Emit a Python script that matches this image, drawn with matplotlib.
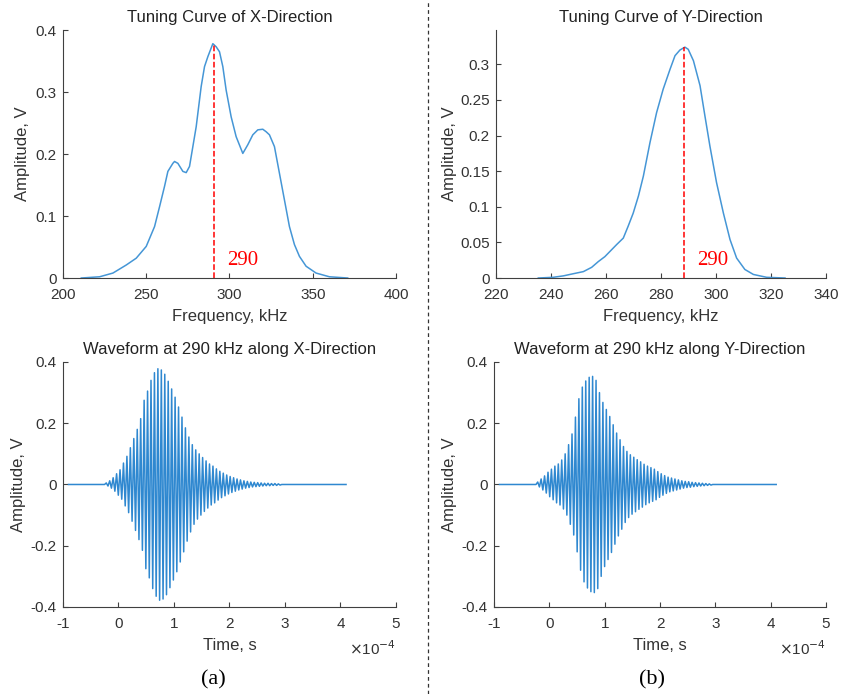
import matplotlib

matplotlib.use("Agg")
import matplotlib.pyplot as plt
from matplotlib.lines import Line2D
from matplotlib.ticker import FuncFormatter

plt.rcParams["font.family"] = ["Liberation Sans", "DejaVu Sans"]
plt.rcParams["axes.unicode_minus"] = False

# tuning curve, X direction (kHz, V)
tune_x_freq = [211, 222, 230, 238, 244, 250, 255, 258, 261, 263, 266, 267, 269, 272, 274,
               276, 278, 280, 283, 285, 287, 290, 292, 294, 296, 298, 301, 304, 308, 311,
               314, 317, 320, 322, 324, 327, 330, 333, 336, 339, 342, 346, 352, 360, 371]
tune_x_amp = [0.0, 0.002, 0.008, 0.021, 0.032, 0.051, 0.083, 0.115, 0.148, 0.172, 0.185,
              0.188, 0.185, 0.172, 0.170, 0.180, 0.212, 0.244, 0.309, 0.341, 0.357, 0.378,
              0.373, 0.365, 0.341, 0.303, 0.260, 0.228, 0.201, 0.215, 0.231, 0.239, 0.240,
              0.236, 0.231, 0.212, 0.169, 0.126, 0.083, 0.054, 0.035, 0.019, 0.008, 0.002,
              0.0]

# tuning curve, Y direction (kHz, V)
tune_y_freq = [235.4, 240.8, 244.5, 248.1, 251.8, 254.8, 257.2, 259.6, 261.5, 263.9, 266.3,
               268.1, 269.9, 271.8, 273.6, 276.0, 278.4, 280.8, 283.3, 285.1, 286.9, 288.7,
               289.9, 291.8, 294.2, 296.0, 297.8, 300.2, 302.7, 305.1, 307.5, 310.5, 313.6,
               318.4, 325.1]
tune_y_amp = [0.0, 0.001, 0.003, 0.006, 0.009, 0.015, 0.023, 0.030, 0.0375, 0.047, 0.056,
              0.073, 0.091, 0.115, 0.143, 0.190, 0.232, 0.265, 0.293, 0.312, 0.320, 0.324,
              0.321, 0.305, 0.270, 0.227, 0.185, 0.134, 0.091, 0.054, 0.028, 0.012, 0.005,
              0.001, 0.0]

peak_x_freq, peak_x_amp = 290.5, 0.378
peak_y_freq, peak_y_amp = 288.5, 0.324
peak_label = "290"

# waveforms: one peak amplitude per visible cycle (time in 1e-4 s)
wave_period = 0.062
wave_span = (-0.9, 4.1)
wave_x_start = -0.22
wave_x_peaks = [0.005, 0.012, 0.022, 0.035, 0.048, 0.070, 0.092, 0.120, 0.150, 0.180, 0.215,
                0.275, 0.305, 0.340, 0.365, 0.378, 0.374, 0.360, 0.337, 0.312, 0.285, 0.253,
                0.220, 0.185, 0.155, 0.130, 0.113, 0.100, 0.088, 0.077, 0.067, 0.060, 0.051,
                0.043, 0.037, 0.031, 0.026, 0.022, 0.018, 0.015, 0.012, 0.010, 0.008, 0.007,
                0.006, 0.005, 0.004, 0.004, 0.003, 0.003, 0.002]
wave_y_start = -0.21
wave_y_peaks = [0.008, 0.018, 0.028, 0.040, 0.050, 0.060, 0.067, 0.080, 0.100, 0.130, 0.165,
                0.220, 0.280, 0.318, 0.338, 0.350, 0.353, 0.340, 0.300, 0.268, 0.245, 0.222,
                0.195, 0.168, 0.146, 0.124, 0.108, 0.097, 0.089, 0.081, 0.074, 0.066, 0.060,
                0.055, 0.050, 0.042, 0.035, 0.029, 0.024, 0.021, 0.018, 0.015, 0.012, 0.010,
                0.009, 0.007, 0.006, 0.005, 0.004, 0.003, 0.002]

BLUE = "#4596d6"
WAVE = "#2f88d0"
AXC = "#404040"


def wave_points(start, peaks):
    t = [wave_span[0], start - wave_period / 2]
    y = [0.0, 0.0]
    for i, a in enumerate(peaks):
        t += [start + i * wave_period, start + (i + 0.5) * wave_period]
        y += [a, -a]
    t += [start + len(peaks) * wave_period, wave_span[1]]
    y += [0.0, 0.0]
    return t, y


def style(ax):
    for s in ("top", "right"):
        ax.spines[s].set_visible(False)
    for s in ("left", "bottom"):
        ax.spines[s].set_color(AXC)
        ax.spines[s].set_linewidth(0.8)
    ax.tick_params(direction="in", length=3.5, width=0.8, colors=AXC, labelsize=11,
                   labelcolor="#333333")
    ax.tick_params(axis="x", pad=7)
    ax.tick_params(axis="y", pad=4.5)
    ax.yaxis.set_major_formatter(FuncFormatter(lambda v, p: f"{v:g}"))
    ax.xaxis.set_major_formatter(FuncFormatter(lambda v, p: f"{v:g}"))


fig = plt.figure(figsize=(8.42, 6.94), dpi=100)
ax1 = fig.add_axes([0.0748, 0.5994, 0.3955, 0.3573])
ax2 = fig.add_axes([0.589, 0.5994, 0.392, 0.3573])
ax3 = fig.add_axes([0.0748, 0.1254, 0.3955, 0.353])
ax4 = fig.add_axes([0.5867, 0.1254, 0.3943, 0.353])

title_kw = dict(fontsize=12, color="#222222", pad=6)
lab_kw = dict(fontsize=12, color="#333333")

ax1.plot(tune_x_freq, tune_x_amp, color=BLUE, lw=1.1)
ax1.plot([peak_x_freq, peak_x_freq], [0, peak_x_amp], color="red", ls="--", lw=1.1)
ax1.text(peak_x_freq + 8, 0.028, peak_label, color="red", fontsize=15,
         family="Liberation Serif", va="center")
ax1.set_xlim(200, 400)
ax1.set_ylim(0, 0.4)
ax1.set_xticks([200, 250, 300, 350, 400])
ax1.set_yticks([0, 0.1, 0.2, 0.3, 0.4])
ax1.set_title("Tuning Curve of X-Direction", **title_kw)
ax1.set_xlabel("Frequency, kHz", labelpad=5, **lab_kw)
ax1.set_ylabel("Amplitude, V", **lab_kw)

ax2.plot(tune_y_freq, tune_y_amp, color=BLUE, lw=1.1)
ax2.plot([peak_y_freq, peak_y_freq], [0, peak_y_amp], color="red", ls="--", lw=1.1)
ax2.text(peak_y_freq + 4.5, 0.024, peak_label, color="red", fontsize=15,
         family="Liberation Serif", va="center")
ax2.set_xlim(220, 340)
ax2.set_ylim(0, 0.348)
ax2.set_xticks([220, 240, 260, 280, 300, 320, 340])
ax2.set_yticks([0, 0.05, 0.1, 0.15, 0.2, 0.25, 0.3])
ax2.set_title("Tuning Curve of Y-Direction", **title_kw)
ax2.set_xlabel("Frequency, kHz", labelpad=5, **lab_kw)
ax2.set_ylabel("Amplitude, V", **lab_kw)

for ax, start, peaks, name in ((ax3, wave_x_start, wave_x_peaks, "X"),
                               (ax4, wave_y_start, wave_y_peaks, "Y")):
    t, y = wave_points(start, peaks)
    ax.plot(t, y, color=WAVE, lw=1.1)
    ax.set_xlim(-1, 5)
    ax.set_ylim(-0.4, 0.4)
    ax.set_xticks([-1, 0, 1, 2, 3, 4, 5])
    ax.set_yticks([-0.4, -0.2, 0, 0.2, 0.4])
    ax.set_title(f"Waveform at 290 kHz along {name}-Direction", **title_kw)
    ax.set_xlabel("Time, s", labelpad=5, **lab_kw)
    ax.set_ylabel("Amplitude, V", **lab_kw)
    ax.text(1.0, -0.17, r"$\times$10$^{-4}$", transform=ax.transAxes, ha="right", va="center",
            fontsize=11, color="#333333")

for ax, lx in ((ax1, -0.10), (ax2, -0.118), (ax3, -0.111), (ax4, -0.111)):
    style(ax)
    ax.yaxis.set_label_coords(lx, 0.5)

fig.text(213 / 842, 1 - 680 / 694, "(a)", family="Liberation Serif", fontsize=16,
         ha="center", va="center")
fig.text(652 / 842, 1 - 680 / 694, "(b)", family="Liberation Serif", fontsize=16,
         ha="center", va="center")
fig.add_artist(Line2D([428 / 842, 428 / 842], [0.0, 1.0], transform=fig.transFigure,
                      color="#333333", lw=0.9, ls=(0, (3, 2.5))))

fig.savefig("out.png", dpi=100)
